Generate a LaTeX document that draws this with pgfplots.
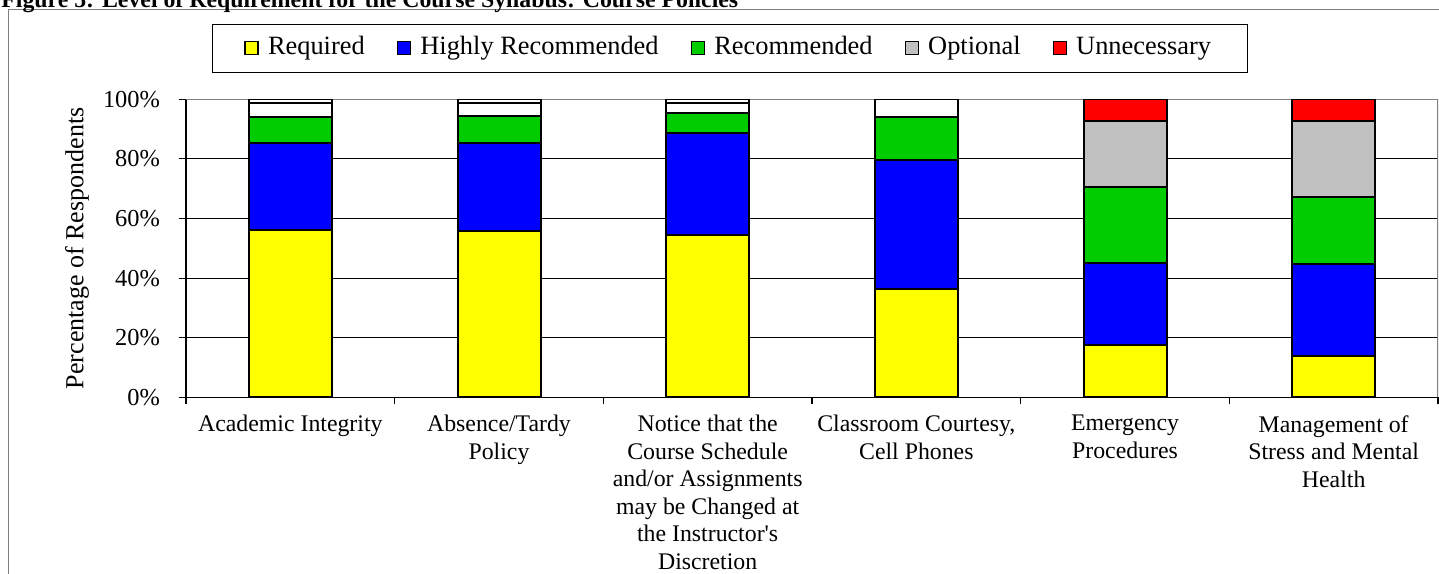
\documentclass[border=0pt]{standalone}
\usepackage{fontspec}
\setmainfont{Liberation Serif}
\usepackage{pgfplots}
\usepackage{pgfplotstable}
\pgfplotsset{compat=1.18}
\definecolor{cYel}{HTML}{FFFF00}
\definecolor{cBlu}{HTML}{0000FF}
\definecolor{cGrn}{HTML}{00CC00}
\definecolor{cGry}{HTML}{C0C0C0}
\definecolor{cRed}{HTML}{FF0000}
\definecolor{frameGray}{HTML}{808080}

\pgfplotstableread{
x req  hr   rec  optw optg unnw unnr
0 56.0 29.4 8.5  4.8  0    1.3  0
1 55.7 29.7 9.0  4.3  0    1.3  0
2 54.4 34.4 6.5  3.4  0    1.3  0
3 36.2 43.3 14.6 5.9  0    0    0
4 17.4 27.6 25.7 0    21.9 0    7.4
5 13.8 30.8 22.6 0    25.4 0    7.4
}\datatable

\begin{document}
\begin{tikzpicture}
\useasboundingbox (0,0) rectangle (719.5pt,286.5pt);
\draw[frameGray, line width=0.75pt] (4.25pt,-20pt) -- (4.25pt,281.75pt) -- (740pt,281.75pt);
\node[anchor=base west, inner sep=0pt, font=\bfseries\fontsize{11.9}{13}\selectfont] at (0.5pt,282.75pt)
  {Figure 5: Level of Requirement for the Course Syllabus: Course Policies};
\begin{axis}[
  at={(93pt,87.85pt)}, anchor=south west,
  scale only axis, width=626pt, height=149pt,
  ybar stacked, bar width=41.5pt,
  xmin=-0.5, xmax=5.5, ymin=0, ymax=100,
  axis x line*=bottom, axis y line*=left,
  axis line style={black, line width=0.6pt},
  tick align=outside,
  /pgf/number format/assume math mode=true,
  ytick={0,20,40,60,80,100},
  yticklabel={\pgfmathprintnumber{\tick}\%},
  yticklabel style={font=\fontsize{12.2}{14}\selectfont, xshift=-6pt},
  ytick style={black, line width=0.6pt},
  major tick length=3.5pt,
  ymajorgrids, grid style={black, line width=0.5pt},
  xtick={0,1,2,3,4,5},
  xtick style={draw=none},
  xticklabels={Academic Integrity, Absence/Tardy\\Policy, Notice that the\\Course Schedule\\and/or Assignments\\may be Changed at\\the Instructor\textquotesingle s\\Discretion, {Classroom Courtesy,\\Cell Phones}, Emergency\\Procedures, Management of\\Stress and Mental\\Health},
  xticklabel style={align=center, font=\fontsize{11.9}{13.75}\selectfont, anchor=north, yshift=-2pt},
  extra x ticks={-0.5,0.5,1.5,2.5,3.5,4.5,5.5},
  extra x tick labels={},
  extra x tick style={grid=none, xtick style={draw=black, line width=0.6pt}},
  ylabel={Percentage of Respondents},
  every axis y label/.style={at={(axis description cs:-0.0871,0.5)}, rotate=90, anchor=center, font=\fontsize{13}{15}\selectfont},
  legend columns=5,
  legend style={at={(axis description cs:0.4343,1.1705)}, anchor=center,
    draw=black, line width=0.5pt, inner xsep=16pt, inner ysep=4pt,
    font=\fontsize{13.2}{15}\selectfont,
    nodes={text height=9pt, text depth=3pt},
    /tikz/every even column/.append style={column sep=14pt},
    /tikz/every odd column/.append style={column sep=2.5pt}},
  legend image code/.code={\draw[#1, line width=0.8pt] (0pt,-3pt) rectangle (6.5pt,3.5pt);},
  legend entries={Required, Highly Recommended, Recommended, , Optional, , Unnecessary},
  every axis plot/.append style={draw=black, line width=1pt},
]
\addplot[fill=cYel] table[x=x, y=req] {\datatable};
\addplot[fill=cBlu] table[x=x, y=hr] {\datatable};
\addplot[fill=cGrn] table[x=x, y=rec] {\datatable};
\addplot[fill=white] table[x=x, y=optw] {\datatable};
\addplot[fill=cGry] table[x=x, y=optg] {\datatable};
\addplot[fill=white] table[x=x, y=unnw] {\datatable};
\addplot[fill=cRed] table[x=x, y=unnr] {\datatable};
\draw[frameGray, line width=1pt] (rel axis cs:0,1) -- (rel axis cs:1,1) -- (rel axis cs:1,0);
\end{axis}
\end{tikzpicture}
\end{document}
